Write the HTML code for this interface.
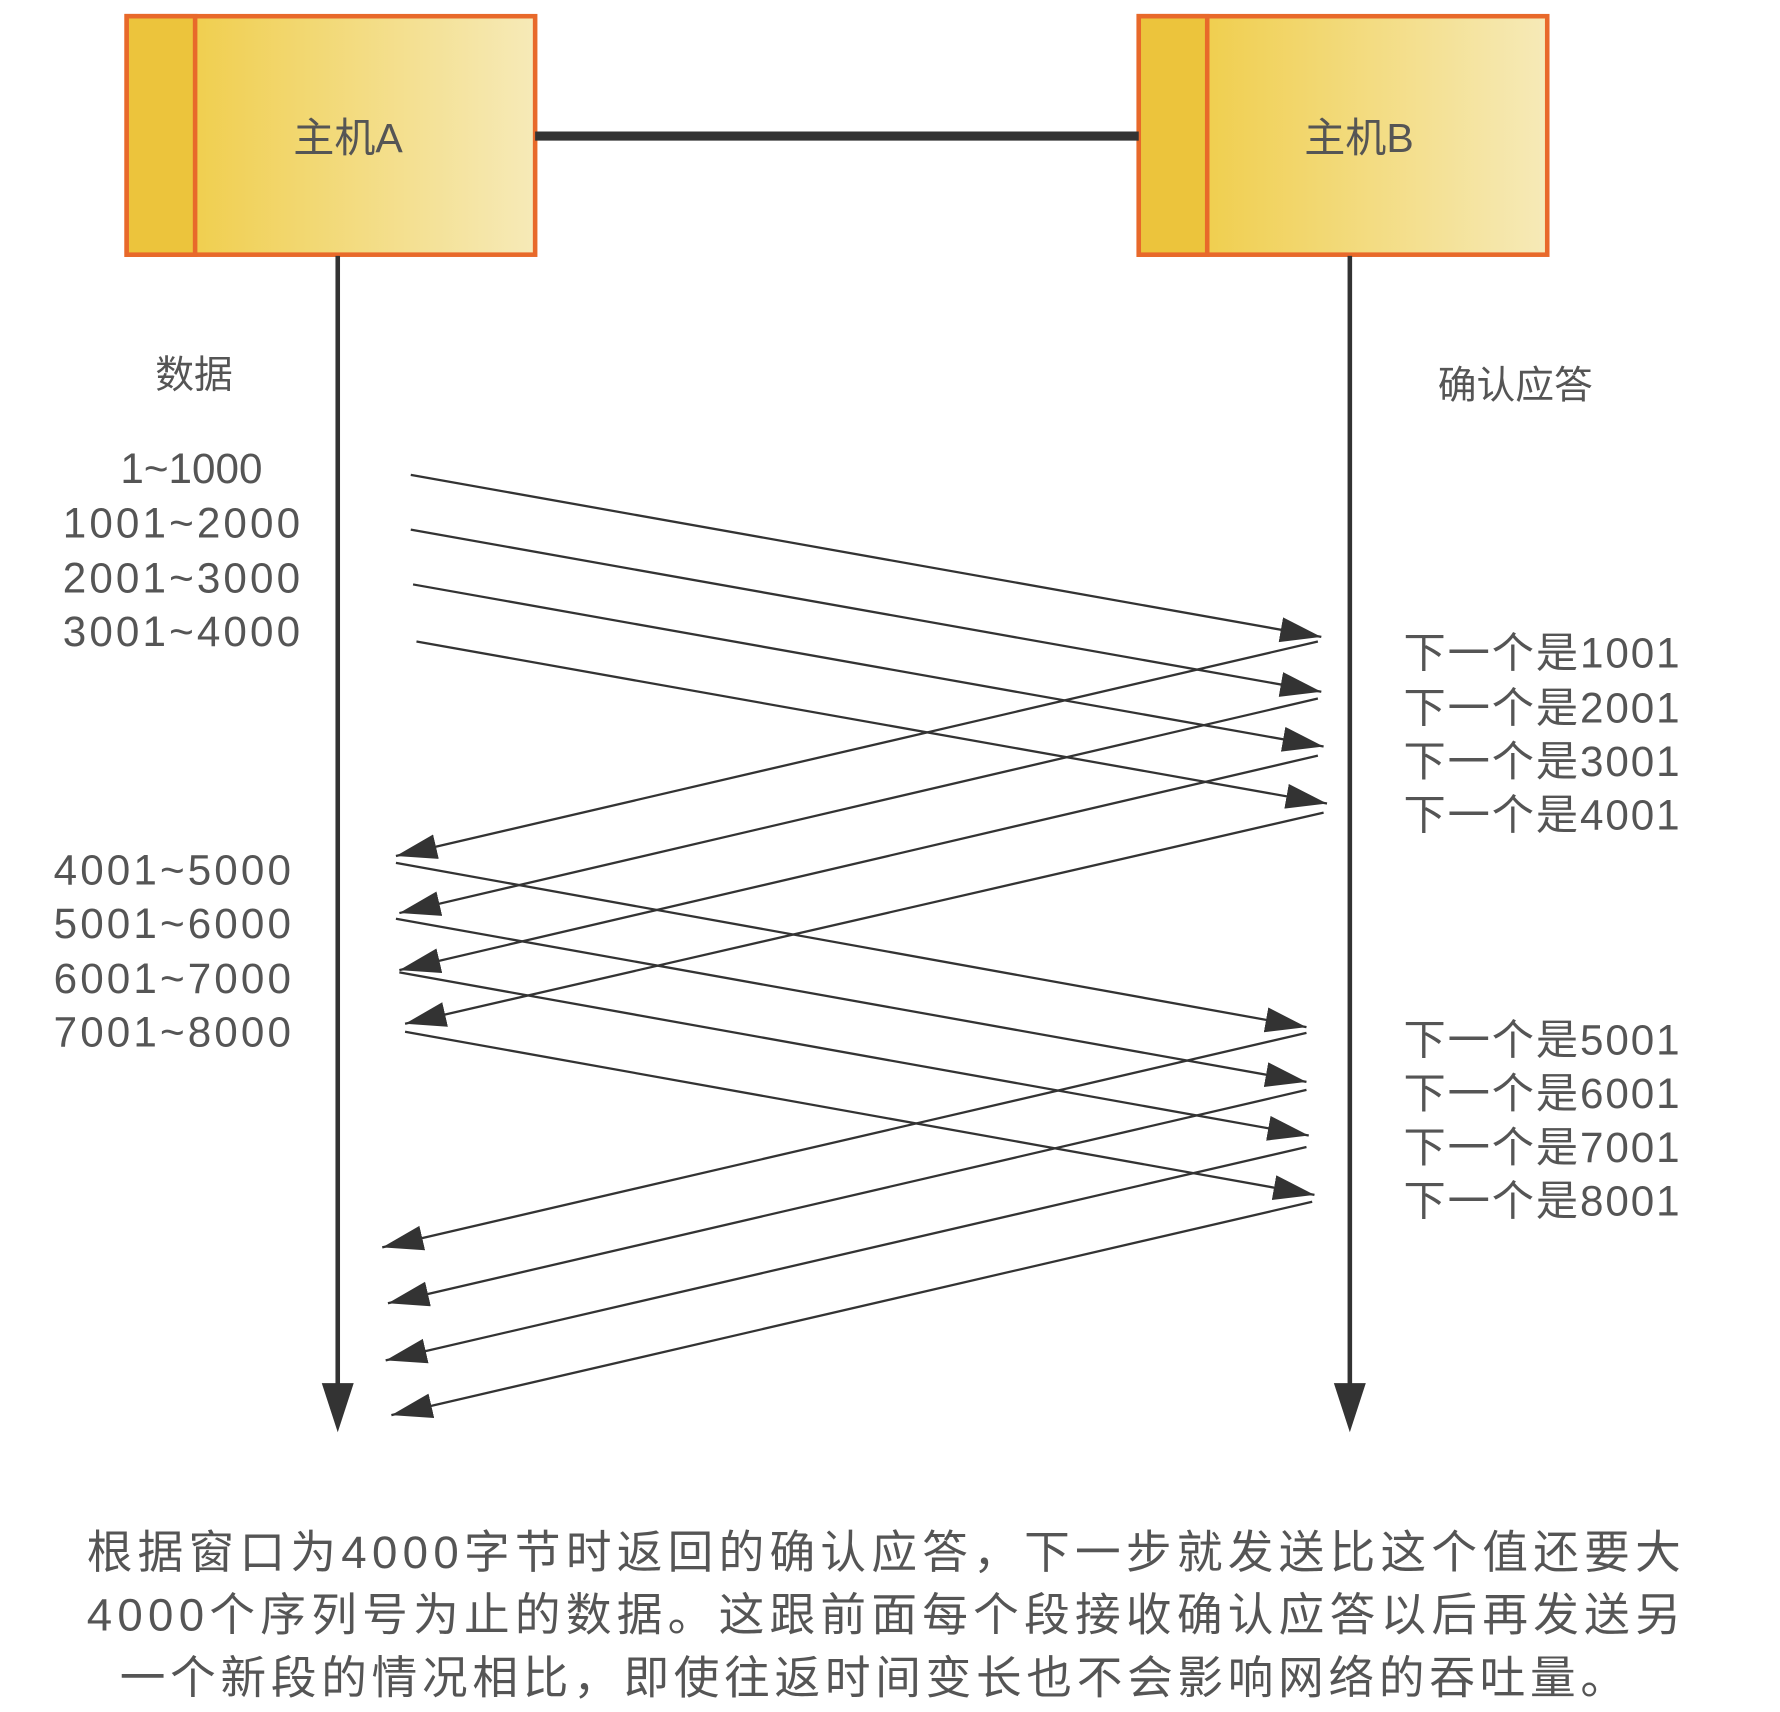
<!DOCTYPE html>
<html><head><meta charset="utf-8"><style>
html,body{margin:0;padding:0;background:#fff;}
svg{display:block;}
text{font-family:"Liberation Sans","Noto Sans CJK SC",sans-serif;fill:#555;}
</style></head><body>
<svg width="1780" height="1712" viewBox="0 0 1560 1500" xmlns="http://www.w3.org/2000/svg">
<defs>
<linearGradient id="g" x1="0" y1="0" x2="1" y2="0">
<stop offset="0" stop-color="#efc93a"/><stop offset="1" stop-color="#f6eab8"/>
</linearGradient>
<marker id="ah" markerUnits="userSpaceOnUse" markerWidth="40" markerHeight="30" refX="36" refY="11" orient="auto">
<path d="M0,0 L36,11 L0,22 Z" fill="#333"/>
</marker>
</defs>
<!-- boxes -->
<rect x="111" y="14" width="358" height="209" fill="url(#g)" stroke="#e8692a" stroke-width="4"/>
<rect x="111" y="14" width="60" height="209" fill="#ecc43c" stroke="#e8692a" stroke-width="4"/>
<rect x="998" y="14" width="358" height="209" fill="url(#g)" stroke="#e8692a" stroke-width="4"/>
<rect x="998" y="14" width="60" height="209" fill="#ecc43c" stroke="#e8692a" stroke-width="4"/>
<line x1="469" y1="119" x2="998" y2="119" stroke="#333" stroke-width="8"/>
<text x="305" y="133" font-size="36" text-anchor="middle">主机A</text>
<text x="1191" y="133" font-size="36" text-anchor="middle">主机B</text>
<!-- lifelines -->
<line x1="296" y1="224" x2="296" y2="1215" stroke="#333" stroke-width="4"/>
<path d="M282,1212 L310,1212 L296,1255 Z" fill="#333"/>
<line x1="1183" y1="224" x2="1183" y2="1215" stroke="#333" stroke-width="4"/>
<path d="M1169,1212 L1197,1212 L1183,1255 Z" fill="#333"/>
<text x="170" y="340" font-size="34" text-anchor="middle">数据</text>
<text x="1328" y="349" font-size="34" text-anchor="middle">确认应答</text>
<!-- data labels -->
<g font-size="37" text-anchor="end">
<text x="230" y="423">1~1000</text>
<text x="263" y="471" textLength="208">1001~2000</text>
<text x="263" y="519" textLength="208">2001~3000</text>
<text x="263" y="566" textLength="208">3001~4000</text>
<text x="255" y="775" textLength="208">4001~5000</text>
<text x="255" y="822" textLength="208">5001~6000</text>
<text x="255" y="870" textLength="208">6001~7000</text>
<text x="255" y="917" textLength="208">7001~8000</text>
</g>
<g font-size="37">
<text x="1230" y="585" textLength="242">下一个是1001</text>
<text x="1230" y="633" textLength="242">下一个是2001</text>
<text x="1230" y="680" textLength="242">下一个是3001</text>
<text x="1230" y="727" textLength="242">下一个是4001</text>
<text x="1230" y="924" textLength="242">下一个是5001</text>
<text x="1230" y="971" textLength="242">下一个是6001</text>
<text x="1230" y="1018" textLength="242">下一个是7001</text>
<text x="1230" y="1065" textLength="242">下一个是8001</text>
</g>
<!-- arrows -->
<g stroke="#333" stroke-width="2" marker-end="url(#ah)">
<line x1="360" y1="416" x2="1158" y2="558"/>
<line x1="360" y1="464" x2="1158" y2="606"/>
<line x1="362" y1="512" x2="1160" y2="654"/>
<line x1="365" y1="562" x2="1163" y2="704"/>
<line x1="1155" y1="562" x2="347" y2="750"/>
<line x1="1155" y1="612" x2="350" y2="800"/>
<line x1="1155" y1="662" x2="350" y2="850"/>
<line x1="1160" y1="712" x2="355" y2="897"/>
<line x1="347" y1="756" x2="1145" y2="900"/>
<line x1="347" y1="805" x2="1145" y2="948"/>
<line x1="350" y1="852" x2="1147" y2="995"/>
<line x1="355" y1="904" x2="1152" y2="1047"/>
<line x1="1145" y1="905" x2="335" y2="1093"/>
<line x1="1145" y1="955" x2="340" y2="1142"/>
<line x1="1145" y1="1005" x2="338" y2="1192"/>
<line x1="1150" y1="1053" x2="343" y2="1240"/>
</g>
<!-- caption -->
<g font-size="40">
<text x="76" y="1374" textLength="1397">根据窗口为4000字节时返回的确认应答，下一步就发送比这个值还要大</text>
<text x="76" y="1429" textLength="1397">4000个序列号为止的数据。这跟前面每个段接收确认应答以后再发送另</text>
<text x="105" y="1484" textLength="1320">一个新段的情况相比，即使往返时间变长也不会影响网络的吞吐量。</text>
</g>
</svg>
</body></html>
